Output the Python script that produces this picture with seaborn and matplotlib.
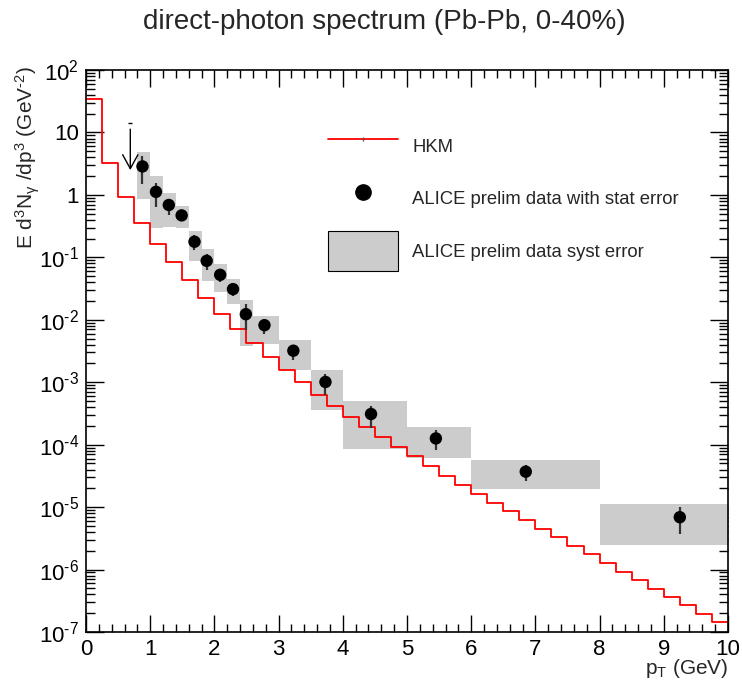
import numpy as np
import pandas as pd
import seaborn as sns
import matplotlib.pyplot as plt
from matplotlib.lines import Line2D
from matplotlib.patches import Patch
from matplotlib.ticker import FixedLocator, FixedFormatter, LogLocator, MultipleLocator, NullFormatter

# HKM model, step histogram with 0.25 GeV bins
hkm_edges = np.arange(0, 10.01, 0.25)
hkm_values = [34, 3.3, 0.92, 0.357, 0.166, 0.083, 0.0427, 0.0224, 0.0125, 0.0072,
              0.00422, 0.0025, 0.00155, 0.001, 6.35e-4, 4.17e-4, 2.8e-4, 1.92e-4, 1.33e-4, 9.1e-5,
              6.5e-5, 4.5e-5, 3.19e-5, 2.29e-5, 1.64e-5, 1.18e-5, 8.57e-6, 6.2e-6, 4.5e-6, 3.28e-6,
              2.4e-6, 1.75e-6, 1.27e-6, 9.2e-7, 6.7e-7, 4.94e-7, 3.6e-7, 2.7e-7, 1.96e-7, 1.46e-7]

# ALICE preliminary data
pt = [0.88, 1.09, 1.29, 1.49, 1.69, 1.88, 2.09, 2.29, 2.49, 2.78, 3.23, 3.73, 4.44, 5.45, 6.85, 9.25]
yld = [2.86, 1.12, 0.69, 0.47, 0.178, 0.088, 0.0525, 0.031, 0.0123, 0.0082, 0.0032, 0.00101,
       3.1e-4, 1.26e-4, 3.7e-5, 6.9e-6]
stat_hi = [4.2, 1.58, 0.84, 0.55, 0.228, 0.115, 0.065, 0.038, 0.018, 0.0102, 0.0039, 0.00138,
           4.1e-4, 1.7e-4, 4.8e-5, 1.0e-5]
stat_lo = [1.49, 0.65, 0.48, 0.40, 0.131, 0.063, 0.040, 0.024, 0.0068, 0.006, 0.0023, 6.3e-4,
           1.86e-4, 8.1e-5, 2.6e-5, 3.66e-6]
box_lo = [0.8, 1.0, 1.2, 1.4, 1.6, 1.8, 2.0, 2.2, 2.4, 2.6, 3.0, 3.5, 4.0, 5.0, 6.0, 8.0]
box_hi = [1.0, 1.2, 1.4, 1.6, 1.8, 2.0, 2.2, 2.4, 2.6, 3.0, 3.5, 4.0, 5.0, 6.0, 8.0, 10.0]
syst_hi = [4.8, 2.0, 1.06, 0.66, 0.26, 0.135, 0.078, 0.045, 0.0206, 0.0117, 0.0047, 0.0016,
           5.1e-4, 1.9e-4, 5.6e-5, 1.11e-5]
syst_lo = [0.87, 0.30, 0.31, 0.29, 0.087, 0.042, 0.028, 0.0178, 0.0038, 0.0041, 0.0016, 3.6e-4,
           8.5e-5, 6.2e-5, 1.96e-5, 2.47e-6]

# upper limit at low pT
lim_x = 0.69
lim_top = 11.3
lim_tip = 2.5
lim_dash = 14.3

HY = '\u2010'  # short hyphen for exponents
ytick_vals = [1e-7, 1e-6, 1e-5, 1e-4, 1e-3, 1e-2, 1e-1, 1, 10, 100]
ytick_labels = ['10$^{' + HY + '7}$', '10$^{' + HY + '6}$', '10$^{' + HY + '5}$',
                '10$^{' + HY + '4}$', '10$^{' + HY + '3}$', '10$^{' + HY + '2}$',
                '10$^{' + HY + '1}$', '1', '10', '10$^{2}$']

sns.set_theme(style='ticks')
plt.rcParams['font.family'] = ['Liberation Sans', 'DejaVu Sans']
plt.rcParams['mathtext.fontset'] = 'custom'
plt.rcParams['mathtext.rm'] = 'Liberation Sans'
plt.rcParams['mathtext.it'] = 'Liberation Sans'
plt.rcParams['mathtext.default'] = 'regular'

fig = plt.figure(figsize=(7.42, 6.84), dpi=100)
ax = fig.add_axes([0.1159, 0.076, 0.8652, 0.8216])

# systematic boxes
bw = np.array(box_hi) - np.array(box_lo)
ax.bar(box_lo, np.array(syst_hi) - np.array(syst_lo), bottom=syst_lo, width=bw, align='edge',
       color='#cccccc', linewidth=0, zorder=1)

# HKM step line
hkm = pd.DataFrame({'pt': hkm_edges, 'val': hkm_values + [hkm_values[-1]]})
sns.lineplot(data=hkm, x='pt', y='val', drawstyle='steps-post', estimator=None,
             color='#ff0000', lw=1.3, ax=ax, zorder=2)

# stat errors and points
ax.vlines(pt, stat_lo, stat_hi, color='#333333', lw=1.6, zorder=3)
sns.scatterplot(x=pt, y=yld, color='black', s=80, edgecolor='none', ax=ax, zorder=4)

# upper limit arrow
ax.annotate('', xy=(lim_x, lim_tip), xytext=(lim_x, lim_top),
            arrowprops=dict(arrowstyle='->,head_length=1.0,head_width=0.55', lw=1.0,
                            color='black', shrinkA=0, shrinkB=0, mutation_scale=10))
ax.hlines(lim_dash, lim_x - 0.03, lim_x + 0.03, color='black', lw=1.0)

ax.set_yscale('log')
ax.set_xlim(0, 10)
ax.set_ylim(1e-7, 100)
ax.set_xlabel('')
ax.set_ylabel('')

ax.yaxis.set_major_locator(FixedLocator(ytick_vals))
ax.yaxis.set_major_formatter(FixedFormatter(ytick_labels))
ax.yaxis.set_minor_locator(LogLocator(base=10, subs=np.arange(2, 10), numticks=20))
ax.yaxis.set_minor_formatter(NullFormatter())
ax.xaxis.set_major_locator(MultipleLocator(1))
ax.xaxis.set_minor_locator(MultipleLocator(0.2))

ax.tick_params(which='both', direction='in', top=True, right=True, colors='black',
               labelsize=16)
ax.tick_params(axis='x', which='major', length=12, width=1.0, pad=5)
ax.tick_params(axis='x', which='minor', length=6, width=1.0)
ax.tick_params(axis='y', which='major', length=13, width=1.0, pad=5)
ax.tick_params(axis='y', which='minor', length=6.5, width=1.0)
for s in ax.spines.values():
    s.set_linewidth(1.2)
    s.set_color('black')

# legend
handles = [Line2D([], [], color='#ff0000', lw=1.3, marker='|', markersize=3,
                  markeredgecolor='#555555'),
           Line2D([], [], color='none', marker='o', markersize=11, markerfacecolor='black',
                  markeredgecolor='black'),
           Patch(facecolor='#cccccc', edgecolor='black', linewidth=0.8)]
labels = ['HKM', 'ALICE prelim data with stat error', 'ALICE prelim data syst error']
ax.legend(handles, labels, loc='upper left', bbox_to_anchor=(0.377, 0.899), frameon=False,
          fontsize=13.3, handlelength=3.8, handleheight=2.93, handletextpad=0.76,
          labelspacing=0.68, borderpad=0, borderaxespad=0)

fig.suptitle('direct-photon spectrum (Pb-Pb, 0-40%)', x=384 / 742, y=0.968, va='center',
             fontsize=20)
fig.text(28 / 742, 1 - 66 / 684, 'E d$^{3}$N$_{\\gamma}$ /dp$^{3}$ (GeV$^{' + HY + '2}$)',
         rotation=90, ha='center', va='top', fontsize=15)
fig.text(728 / 742, 1 - 668 / 684, 'p$_{T}$ (GeV)', ha='right', va='center', fontsize=15)

fig.savefig('out.png', dpi=100)
